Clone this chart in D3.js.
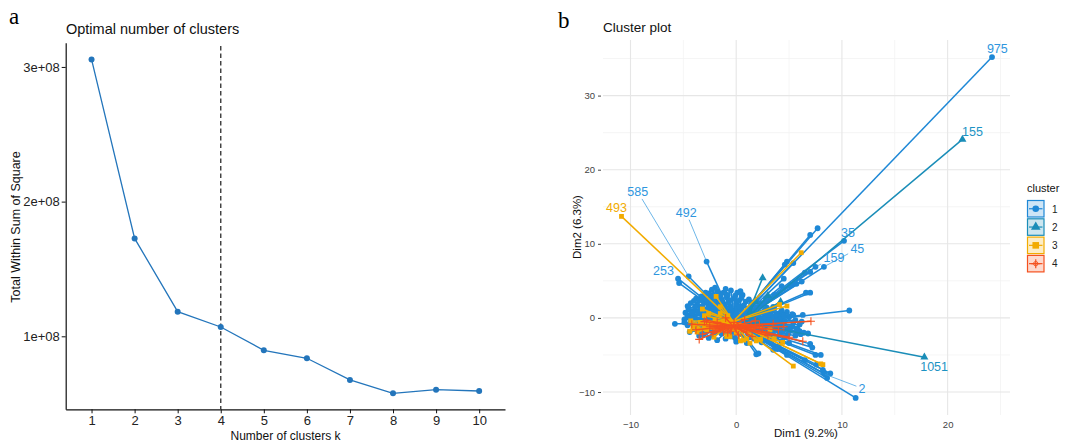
<!DOCTYPE html>
<html>
<head>
<meta charset="utf-8">
<script src="https://cdn.jsdelivr.net/npm/d3@7"></script>
<style>
  html, body { margin: 0; padding: 0; background: #fff; }
  svg { display: block; font-family: "Liberation Sans", Arial, sans-serif; }
</style>
</head>
<body>
<svg id="chart" width="1071" height="441"></svg>
<script>
// ---------- Panel a: elbow curve ----------
const kValues = [1, 2, 3, 4, 5, 6, 7, 8, 9, 10];
const wssValues = [3.056e8, 1.727e8, 1.183e8, 1.069e8, 0.896e8, 0.837e8, 0.676e8, 0.577e8, 0.604e8, 0.594e8];
const wssTicks = [1e8, 2e8, 3e8];
const optimalK = 4;

// ---------- Panel b: cluster plot (Dim1, Dim2) ----------
const clusterNames = ["1", "2", "3", "4"];
const clusterColors = ["#1E88D6", "#1A8DB8", "#F2AB00", "#F4511E"];
const clusterCenters = [[-0.1, -0.8], [0.8, -0.6], [-0.3, -0.5], [-0.3, -1.1]];

const cluster1Points = [
  [24.2, 35.2], [-4.5, 5.6], [-2.8, 7.6], [-5.5, 5.3], [-5.4, 4.7], [-5.8, -0.8],
  [7.7, 12.1], [7.0, 11.2], [4.8, 7.6], [4.6, 7.2], [10.2, 10.4], [8.3, 6.9],
  [7.5, 6.9], [7.0, 6.2], [10.7, 1.0], [6.6, 3.4], [1.9, -4.9], [7.5, -5.0],
  [11.3, -10.8], [8.6, -8.1], [8.3, -7.5], [8.4, -7.6], [6.5, -5.7], [6.5, 6.1],
  [5.7, 4.6], [5.3, 4.5], [4.3, 4.3], [4.5, 5.3], [-2.0, 4.1], [-4.5, 1.3],
  [-4.4, -1.9], [5.4, 0.4], [6.4, -2.0], [3.5, -4.3], [4.0, -3.8], [5.8, -1.5],
  [6.0, -1.8], [7.0, -3.5], [7.2, -4.0], [5.0, -3.4], [8.2, -7.0], [7.6, -6.3],
  [3.0, -2.7], [-3.5, -2.4], [-4.9, -0.6], [-4.6, 0.2], [6.3, 0.4], [6.8, -2.1],
  [8.0, -5.0], [8.9, -7.5], [2.1, -4.8], [4.8, -5.0], [3.9, -4.2], [5.1, 4.4],
  [6.2, 4.9], [7.0, 3.4], [5.4, 7.4], [3.6, 3.1], [2.8, 2.6],
  [-2.6, 3.3], [-1.8, 3.6], [-1.2, 3.4], [-0.5, 3.7], [0.1, 3.4], [0.6, 3.1], [-3.0, 3.0],
  [-3.8, 2.6], [-3.3, 2.9], [-2.4, 2.7], [-1.6, 2.9], [-0.9, 2.8], [-0.2, 2.6], [0.5, 2.7],
  [1.2, 2.5], [1.9, 2.4],
  [-4.3, 2.0], [-3.7, 1.8], [-3.1, 2.2], [-2.5, 1.9], [-1.9, 2.1], [-1.3, 1.8], [-0.7, 2.0],
  [0.0, 1.9], [0.7, 1.7], [1.4, 1.9], [2.2, 1.6], [2.9, 1.4], [3.6, 1.2],
  [-4.5, 1.1], [-4.0, 0.9], [-3.4, 1.3], [-2.8, 1.0], [-2.2, 1.2], [-1.6, 0.9], [-1.0, 1.3],
  [-0.4, 1.0], [0.3, 1.1], [1.0, 0.8], [1.7, 1.0], [2.5, 0.7], [3.3, 0.9], [4.1, 0.6], [4.8, 0.8],
  [-4.6, 0.3], [-3.9, 0.1], [-3.2, 0.4], [-2.6, 0.2], [-2.0, 0.5], [-1.4, 0.1], [-0.8, 0.4],
  [-0.2, 0.2], [0.5, 0.3], [1.2, 0.0], [1.9, 0.2], [2.7, -0.1], [3.4, 0.2], [4.2, -0.2],
  [5.0, 0.1], [5.6, -0.3],
  [-4.3, -0.6], [-3.6, -0.4], [-2.9, -0.7], [-2.3, -0.5], [-1.7, -0.8], [-1.1, -0.5], [-0.5, -0.7],
  [0.2, -0.6], [0.9, -0.8], [1.6, -0.5], [2.3, -0.9], [3.0, -0.6], [3.8, -1.0], [4.5, -0.7],
  [5.3, -1.1], [6.0, -0.9],
  [-4.0, -1.5], [-3.3, -1.3], [-2.6, -1.6], [-1.9, -1.4], [-1.2, -1.7], [-0.6, -1.4], [0.1, -1.6],
  [0.8, -1.3], [1.5, -1.7], [2.2, -1.5], [2.9, -1.8], [3.7, -1.6], [4.4, -1.9], [5.1, -1.7], [6.1, -2.2],
  [-3.1, -2.2], [-2.2, -2.4], [-1.4, -2.1], [-0.5, -2.5], [0.4, -2.2], [1.3, -2.6], [2.1, -2.3],
  [3.0, -2.4], [3.8, -2.8], [4.6, -2.6],
  [-1.8, -3.0], [0.0, -3.2], [1.0, -3.4], [2.4, -3.3],
  [-2.9, 3.4], [-2.2, 3.1], [-1.5, 3.2], [-0.8, 3.1], [-0.1, 3.0], [0.4, 3.6], [-1.0, 3.9], [-2.3, 3.8],
  [-4.0, 2.3], [-3.5, 2.4], [-2.8, 2.4], [-2.1, 2.5], [-1.4, 2.3], [-0.6, 2.4], [0.2, 2.3], [0.9, 2.2],
  [1.6, 2.1], [2.4, 2.0],
  [-4.6, 1.6], [-3.9, 1.5], [-3.2, 1.6], [-2.6, 1.5], [-1.9, 1.6], [-1.2, 1.5], [-0.5, 1.5], [0.3, 1.5],
  [1.1, 1.3], [1.9, 1.4], [2.7, 1.1], [3.5, 1.5], [4.3, 1.0],
  [-4.8, 0.7], [-4.2, 0.6], [-3.6, 0.7], [-2.9, 0.6], [-2.4, 0.8], [-1.8, 0.6], [-1.2, 0.7], [-0.6, 0.6],
  [0.0, 0.6], [0.8, 0.5], [1.4, 0.5], [2.1, 0.5], [3.0, 0.4], [3.8, 0.5], [4.5, 0.3], [5.3, 0.5],
  [-4.9, -0.2], [-4.2, -0.1], [-3.5, -0.2], [-2.9, -0.1], [-2.3, 0.0], [-1.7, -0.2], [-1.1, -0.1],
  [-0.5, -0.2], [0.1, -0.1], [0.8, -0.2], [1.5, -0.1], [2.3, -0.4], [3.1, -0.3], [3.8, -0.4], [4.6, -0.4],
  [5.4, -0.6], [6.2, -0.5],
  [-4.6, -1.0], [-3.9, -1.1], [-3.2, -0.9], [-2.6, -1.1], [-2.0, -1.1], [-1.4, -1.2], [-0.8, -1.0],
  [-0.2, -1.1], [0.5, -1.0], [1.2, -1.1], [1.9, -1.2], [2.6, -1.3], [3.4, -1.3], [4.1, -1.3], [4.9, -1.4],
  [5.7, -1.4],
  [-3.6, -1.9], [-2.9, -2.0], [-2.2, -1.9], [-1.6, -1.8], [-0.9, -2.0], [-0.2, -1.9], [0.5, -1.9],
  [1.1, -2.1], [1.8, -2.0], [2.6, -2.0], [3.4, -2.1], [4.1, -2.3], [4.9, -2.2], [5.6, -2.4],
  [-2.6, -2.7], [-1.0, -2.8], [-0.1, -2.7], [0.8, -2.9], [1.7, -2.8], [3.4, -3.0], [4.3, -3.2]
];
const cluster2Points = [
  [21.4, 24.1], [17.8, -5.3], [2.5, 5.4], [4.2, 2.2], [3.0, 3.0], [1.8, 2.2], [2.0, -0.5], [1.3, 0.8]
];
const cluster3Points = [
  [-10.85, 13.7], [6.15, 8.8], [5.4, -6.5], [8.2, -6.3], [8.0, -6.2], [4.1, 1.8], [-1.9, 2.9],
  [-3.7, -1.9], [-0.9, -2.5], [-0.6, -2.5], [0.4, -3.1], [1.9, -3.1], [-4.1, -1.2], [-3.6, -1.5],
  [-2.5, -0.8], [-2.0, -0.3], [-1.5, 0.6], [-3.0, 0.3], [-1.0, -1.8], [1.0, -2.8], [2.5, -2.2],
  [3.2, -1.6], [-2.8, -1.6], [-3.9, -0.9], [-4.3, -0.4], [0.0, -2.0], [2.3, -2.9], [-1.5, 1.5],
  [-3.2, 1.2], [4.8, 1.6], [0.7, -3.0],
  [-3.4, -0.6], [-2.2, -1.3], [-1.2, -0.9], [-3.0, -1.1], [-1.8, -1.7], [-0.4, -1.5], [0.6, -1.6],
  [1.6, -1.2], [-2.6, 0.6], [-0.8, 0.3], [3.6, -2.8], [4.4, -3.3], [1.3, -3.4], [-4.4, -1.8], [-2.1, -2.6]
];
const cluster4Points = [
  [7.07, -0.45], [6.3, -3.15], [-3.5, -2.9], [-4.2, -0.86], [-1.2, -1.9], [-2.5, -1.2], [-3.0, -0.5],
  [2.5, -1.5], [3.5, -0.8], [4.0, -1.6], [1.8, -0.4], [-1.8, -0.6], [-0.8, -2.0], [0.2, -2.3],
  [-0.5, -1.8], [1.0, -1.9], [-2.2, -2.0], [3.0, -2.4], [5.0, -2.6], [-3.8, -1.6], [-1.0, 0.0],
  [0.8, -0.2], [2.2, -0.9], [-2.8, -0.3],
  [-1.5, -1.4], [0.5, -1.4], [1.4, -1.0], [-0.2, -0.6], [-2.0, -1.5], [2.8, -1.9], [4.5, -1.2],
  [-3.2, -2.2], [0.0, -1.5], [1.5, -2.5]
];
const clusterPoints = [cluster1Points, cluster2Points, cluster3Points, cluster4Points];

// labelled observations
const labelTexts = ["975", "155", "35", "45", "159", "585", "493", "492", "253", "1051", "2"];
const labelClusters = [0, 1, 0, 0, 0, 0, 2, 0, 0, 1, 0];
const labelPoints = [[24.2, 35.2], [21.4, 24.1], [10.2, 10.4], [8.3, 6.9], [7.5, 6.9], [-4.5, 5.6],
  [-10.85, 13.7], [-2.8, 7.6], [-5.5, 5.3], [17.8, -5.3], [8.4, -7.6]];
const labelAnchors = [[24.7, 36.3], [22.35, 25.2], [10.58, 11.54], [11.46, 9.32], [9.25, 8.1],
  [-9.31, 17.0], [-11.33, 14.9], [-4.73, 14.2], [-6.88, 6.35], [18.72, -6.57], [11.9, -9.5]];

const dimXTicks = [-10, 0, 10, 20];
const dimYTicks = [-10, 0, 10, 20, 30];
const dimXMinor = [-5, 5, 15, 25];
const dimYMinor = [-5, 5, 15, 25, 35];

const svg = d3.select("#chart");

// ================= Panel a =================
(function drawElbow() {
  const g = svg.append("g");
  const x = d3.scaleLinear().domain([0.4, 10.6]).range([65.7, 505]);
  const y = d3.scaleLinear().domain([0.458e8, 3.18e8]).range([409.3, 42.7]);

  g.append("text").attr("x", 9).attr("y", 24)
    .style("font-family", "'Liberation Serif', 'Times New Roman', serif")
    .style("font-size", "23px").text("a");
  g.append("text").attr("x", 66).attr("y", 34)
    .style("font-size", "14.5px").attr("fill", "#111").text("Optimal number of clusters");

  // axes
  const xAxis = d3.axisBottom(x).tickValues(kValues).tickSize(4).tickPadding(2).tickSizeOuter(0)
    .tickFormat(d3.format("d"));
  const yAxis = d3.axisLeft(y).tickValues(wssTicks).tickSize(4).tickPadding(2).tickSizeOuter(0)
    .tickFormat(d => (d / 1e8) + "e+08");
  const gx = g.append("g").attr("transform", "translate(0,409.3)").call(xAxis);
  const gy = g.append("g").attr("transform", "translate(65.7,0)").call(yAxis);
  [gx, gy].forEach(a => {
    a.select(".domain").attr("stroke", "#111").attr("stroke-width", 1.2);
    a.selectAll(".tick line").attr("stroke", "#111").attr("stroke-width", 1);
    a.selectAll(".tick text").attr("fill", "#222").style("font-size", "13px")
      .style("font-family", "'Liberation Sans', Arial, sans-serif");
  });

  g.append("text").attr("x", 285.5).attr("y", 439.5).attr("text-anchor", "middle")
    .style("font-size", "12px").attr("fill", "#111").text("Number of clusters k");
  g.append("text").attr("transform", "translate(20,227) rotate(-90)").attr("text-anchor", "middle")
    .style("font-size", "12.5px").attr("fill", "#111").text("Total Within Sum of Square");

  // optimal k marker
  g.append("line").attr("x1", x(optimalK)).attr("x2", x(optimalK))
    .attr("y1", 46).attr("y2", 409.3)
    .attr("stroke", "#3a3a3a").attr("stroke-width", 1.4).attr("stroke-dasharray", "4.5,3");

  const color = "#2375BB";
  const line = d3.line().x((d, i) => x(kValues[i])).y(d => y(d));
  g.append("path").datum(wssValues).attr("d", line)
    .attr("fill", "none").attr("stroke", color).attr("stroke-width", 1.3);
  g.selectAll(".pt").data(wssValues).join("circle")
    .attr("cx", (d, i) => x(kValues[i])).attr("cy", d => y(d)).attr("r", 3)
    .attr("fill", color);
})();

// ================= Panel b =================
(function drawClusters() {
  const g = svg.append("g");
  const left = 603, right = 1010, top = 40, bottom = 415;
  const x = d3.scaleLinear().domain([-12.6, 25.9]).range([left, right]);
  const y = d3.scaleLinear().domain([-13.1, 37.5]).range([bottom, top]);

  g.append("text").attr("x", 558).attr("y", 28)
    .style("font-family", "'Liberation Serif', 'Times New Roman', serif")
    .style("font-size", "23px").text("b");
  g.append("text").attr("x", 603).attr("y", 32)
    .style("font-size", "13.5px").attr("fill", "#111").text("Cluster plot");

  // grid
  const grid = g.append("g");
  dimXMinor.forEach(v => grid.append("line").attr("x1", x(v)).attr("x2", x(v)).attr("y1", top).attr("y2", bottom)
    .attr("stroke", "#F3F3F3").attr("stroke-width", 0.8));
  dimYMinor.forEach(v => grid.append("line").attr("y1", y(v)).attr("y2", y(v)).attr("x1", left).attr("x2", right)
    .attr("stroke", "#F3F3F3").attr("stroke-width", 0.8));
  dimXTicks.forEach(v => grid.append("line").attr("x1", x(v)).attr("x2", x(v)).attr("y1", top).attr("y2", bottom)
    .attr("stroke", "#E6E6E6").attr("stroke-width", 1.1));
  dimYTicks.forEach(v => grid.append("line").attr("y1", y(v)).attr("y2", y(v)).attr("x1", left).attr("x2", right)
    .attr("stroke", "#E6E6E6").attr("stroke-width", 1.1));

  // axes (ticks and labels only)
  const gx = g.append("g").attr("transform", `translate(0,${bottom})`)
    .call(d3.axisBottom(x).tickValues(dimXTicks).tickSize(3).tickSizeOuter(0));
  const gy = g.append("g").attr("transform", `translate(${left - 2},0)`)
    .call(d3.axisLeft(y).tickValues(dimYTicks).tickSize(3).tickSizeOuter(0));
  [gx, gy].forEach(a => {
    a.select(".domain").remove();
    a.selectAll(".tick line").attr("stroke", "#444");
    a.selectAll(".tick text").attr("fill", "#444").style("font-size", "9.5px")
      .style("font-family", "'Liberation Sans', Arial, sans-serif");
  });
  gx.selectAll(".tick line").attr("stroke", "none");

  g.append("text").attr("x", 806).attr("y", 437).attr("text-anchor", "middle")
    .style("font-size", "11.5px").attr("fill", "#111").text("Dim1 (9.2%)");
  g.append("text").attr("transform", "translate(581,227) rotate(-90)").attr("text-anchor", "middle")
    .style("font-size", "11.5px").attr("fill", "#111").text("Dim2 (6.3%)");

  // star segments and points per cluster
  const shapes = [
    sel => sel.append("circle").attr("r", 2.9),
    sel => sel.append("path").attr("d", d3.symbol(d3.symbolTriangle, 28)()),
    sel => sel.append("rect").attr("x", -2.4).attr("y", -2.4).attr("width", 4.8).attr("height", 4.8),
    sel => sel.append("path").attr("d", "M-4,0H4M0,-4V4").attr("stroke-width", 1.1).attr("fill", "none")
  ];
  const plot = g.append("g");
  clusterPoints.forEach((pts, ci) => {
    const col = clusterColors[ci];
    const c = clusterCenters[ci];
    plot.append("g").selectAll("line").data(pts).join("line")
      .attr("x1", d => x(d[0])).attr("y1", d => y(d[1]))
      .attr("x2", x(c[0])).attr("y2", y(c[1]))
      .attr("stroke", col).attr("stroke-width", 1.5);
    const pg = plot.append("g").selectAll("g").data(pts).join("g")
      .attr("transform", d => `translate(${x(d[0])},${y(d[1])})`)
      .attr("fill", col).attr("stroke", col);
    pg.each(function () {
      const s = d3.select(this);
      shapes[ci](s);
      if (ci !== 3) s.attr("stroke", "none");
    });
  });

  // labels with connectors
  const labelColors = ["#2E96DE", "#1C93C4", "#F2AB00", "#F4511E"];
  labelTexts.forEach((t, i) => {
    const col = labelColors[labelClusters[i]];
    const p = labelPoints[i], a = labelAnchors[i];
    const px = x(p[0]), py = y(p[1]), ax = x(a[0]), ay = y(a[1]);
    const dist = Math.hypot(px - ax, py - ay);
    if (dist > 16) {
      // connector from the label's box edge toward the point
      const ang = Math.atan2(py - ay, px - ax);
      const w = t.length * 3.6 + 2, h = 7;
      const r = Math.min(w / Math.abs(Math.cos(ang) || 1e-6), h / Math.abs(Math.sin(ang) || 1e-6));
      g.append("line").attr("x1", ax + Math.cos(ang) * r).attr("y1", ay + Math.sin(ang) * r)
        .attr("x2", px).attr("y2", py)
        .attr("stroke", col).attr("stroke-width", 0.7);
    }
    g.append("text").attr("x", ax).attr("y", ay).attr("dy", "0.35em").attr("text-anchor", "middle")
      .style("font-size", "12.5px").attr("fill", col).text(t);
  });

  // legend
  const lg = g.append("g");
  lg.append("text").attr("x", 1027).attr("y", 192).style("font-size", "11px").attr("fill", "#111").text("cluster");
  const keyTops = [200, 218.3, 236.6, 254.9];
  clusterNames.forEach((name, i) => {
    const col = clusterColors[i];
    const k = lg.append("g").attr("transform", `translate(1027,${keyTops[i]})`);
    k.append("rect").attr("x", 0.5).attr("y", 0.5).attr("width", 16.5).attr("height", 16.5)
      .attr("fill", col).attr("fill-opacity", 0.22).attr("stroke", col).attr("stroke-width", 1.2);
    k.append("line").attr("x1", 2).attr("x2", 15.5).attr("y1", 8.75).attr("y2", 8.75)
      .attr("stroke", col).attr("stroke-width", 1.2);
    const s = k.append("g").attr("transform", "translate(8.75,8.75)").attr("fill", col).attr("stroke", col);
    if (i === 0) s.append("circle").attr("r", 3.3).attr("stroke", "none");
    if (i === 1) s.append("path").attr("d", d3.symbol(d3.symbolTriangle, 40)()).attr("stroke", "none");
    if (i === 2) s.append("rect").attr("x", -3.3).attr("y", -3.3).attr("width", 6.6).attr("height", 6.6).attr("stroke", "none");
    if (i === 3) {
      s.append("path").attr("d", "M-4.5,0H4.5M0,-4.5V4.5").attr("fill", "none").attr("stroke-width", 1.2);
      s.append("circle").attr("r", 2.2).attr("fill", "none").attr("stroke-width", 0.9);
    }
    lg.append("text").attr("x", 1052).attr("y", keyTops[i] + 9).attr("dy", "0.35em")
      .style("font-size", "10px").attr("fill", "#222").text(name);
  });
})();
</script>
</body>
</html>
